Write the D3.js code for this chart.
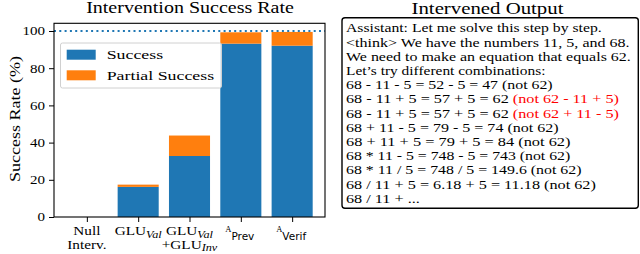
<!DOCTYPE html>
<html>
<head>
<meta charset="utf-8">
<script src="https://cdn.jsdelivr.net/npm/d3@7"></script>
<style>
  body { margin: 0; background: #fff; }
</style>
</head>
<body>
<svg id="chart" width="640" height="254"></svg>
<script>
// categories and values
var categories = ['null', 'gluVal', 'gluValInv', 'aPrev', 'aVerif'];
var successVals = [0, 16.2, 32.8, 93.2, 92.1];
var partialVals = [0, 1.2, 11.0, 6.1, 7.4];
var yTicks = [0, 20, 40, 60, 80, 100];
var seriesNames = ['Success', 'Partial Success'];
var seriesColors = ['#1f77b4', '#ff7f0e'];

var outputLines = [
  [['Assistant: Let me solve this step by step.', 'k']],
  [['<think> We have the numbers 11, 5, and 68.', 'k']],
  [['We need to make an equation that equals 62.', 'k']],
  [['Let\u2019s try different combinations:', 'k']],
  [['68 - 11 - 5 = 52 - 5 = 47 (not 62)', 'k']],
  [['68 - 11 + 5 = 57 + 5 = 62 ', 'k'], ['(not 62 - 11 + 5)', 'r']],
  [['68 - 11 + 5 = 57 + 5 = 62 ', 'k'], ['(not 62 + 11 - 5)', 'r']],
  [['68 + 11 - 5 = 79 - 5 = 74 (not 62)', 'k']],
  [['68 + 11 + 5 = 79 + 5 = 84 (not 62)', 'k']],
  [['68 * 11 - 5 = 748 - 5 = 743 (not 62)', 'k']],
  [['68 * 11 / 5 = 748 / 5 = 149.6 (not 62)', 'k']],
  [['68 / 11 + 5 = 6.18 + 5 = 11.18 (not 62)', 'k']],
  [['68 / 11 + ...', 'k']]
];

var SERIF = 'Liberation Serif';

var svg = d3.select('#chart');

// stretch a text element so the narrow serif looks like the wide one
function widen(node, k) {
  var w = node.getComputedTextLength();
  node.setAttribute('textLength', w * k);
  node.setAttribute('lengthAdjust', 'spacingAndGlyphs');
}

// same, but take the width from DejaVu Sans metrics (closer to the original per line)
function widenLike(node, size, k) {
  var probe = svg.append('text')
    .attr('font-family', 'DejaVu Sans').attr('font-size', size)
    .attr('xml:space', 'preserve')
    .text(node.textContent);
  var w = probe.node().getComputedTextLength();
  probe.remove();
  node.setAttribute('textLength', w * k);
  node.setAttribute('lengthAdjust', 'spacingAndGlyphs');
}

var axL = 54, axR = 325, axT = 23.3, axB = 217;

var x = d3.scaleLinear().domain([-0.64, 4.64]).range([axL, axR]);
var y = d3.scaleLinear().domain([0, 100]).range([axB, 31]);
var barW = x(0.8) - x(0);

var g = svg.append('g');

// bars
var stacks = categories.map(function(c, i) {
  return {i: i, s: successVals[i], p: partialVals[i]};
});
g.selectAll('rect.success').data(stacks).enter().append('rect')
  .attr('class', 'success')
  .attr('x', function(d) { return x(d.i) - barW / 2; })
  .attr('width', barW)
  .attr('y', function(d) { return y(d.s); })
  .attr('height', function(d) { return y(0) - y(d.s); })
  .attr('fill', seriesColors[0]);
g.selectAll('rect.partial').data(stacks).enter().append('rect')
  .attr('class', 'partial')
  .attr('x', function(d) { return x(d.i) - barW / 2; })
  .attr('width', barW)
  .attr('y', function(d) { return y(d.s + d.p); })
  .attr('height', function(d) { return y(d.s) - y(d.s + d.p); })
  .attr('fill', seriesColors[1]);

// dotted line at 100
g.append('line')
  .attr('x1', axL).attr('x2', axR)
  .attr('y1', y(100)).attr('y2', y(100))
  .attr('stroke', seriesColors[0])
  .attr('stroke-width', 2)
  .attr('stroke-dasharray', '2,3.3');

// frame
g.append('rect')
  .attr('x', axL).attr('y', axT)
  .attr('width', axR - axL).attr('height', axB - axT)
  .attr('fill', 'none').attr('stroke', '#000').attr('stroke-width', 1.1);

// y axis
var yAxis = d3.axisLeft(y).tickValues(yTicks).tickSize(5).tickPadding(4);
var ya = g.append('g').attr('transform', 'translate(' + axL + ',0)').call(yAxis);
ya.select('.domain').remove();
ya.selectAll('text')
  .attr('font-family', SERIF).attr('font-size', 12).attr('fill', '#000')
  .each(function() { widen(this, 1.25); });

// x ticks
var xa = g.append('g').attr('transform', 'translate(0,' + axB + ')')
  .call(d3.axisBottom(x).tickValues(d3.range(categories.length)).tickSize(5).tickFormat(''));
xa.select('.domain').remove();

// x tick labels (with subscripts), one text per line
function label(cx, lines) {
  lines.forEach(function(parts, li) {
    var t = g.append('text').attr('text-anchor', 'middle')
      .attr('x', cx).attr('y', 235 + li * 13.5)
      .attr('font-family', SERIF).attr('font-size', 12.5);
    parts.forEach(function(p) {
      var ts = t.append('tspan').text(p.t);
      if (p.dy) ts.attr('dy', p.dy);
      if (p.style) ts.attr('font-style', p.style);
      if (p.size) ts.attr('font-size', p.size);
      if (p.fam) ts.attr('font-family', p.fam);
    });
    if (!parts.some(function(p) { return p.fam; })) widen(t.node(), 1.22);
  });
}
label(x(0), [[{t: 'Null'}], [{t: 'Interv.'}]]);
label(x(1), [[{t: 'GLU'}, {t: 'Val', style: 'italic', size: 10, dy: 2.5}]]);
label(x(2), [[{t: 'GLU'}, {t: 'Val', style: 'italic', size: 10, dy: 2.5}],
             [{t: '+GLU'}, {t: 'Inv', style: 'italic', size: 10, dy: 2.5}]]);
label(x(3) - 1, [[{t: 'A', size: 8.5, dy: -2.7}, {t: 'Prev', fam: 'DejaVu Sans', size: 10.5, dy: 7.7}]]);
label(x(4) - 1, [[{t: 'A', size: 8.5, dy: -2.7}, {t: 'Verif', fam: 'DejaVu Sans', size: 10.5, dy: 7.7}]]);

// y label
var yl = svg.append('text')
  .attr('transform', 'translate(20,' + 119 + ') rotate(-90)')
  .attr('text-anchor', 'middle')
  .attr('font-family', SERIF).attr('font-size', 15)
  .text('Success Rate (%)');
widen(yl.node(), 1.2);

// title
var t1 = svg.append('text')
  .attr('x', 190).attr('y', 13.3)
  .attr('text-anchor', 'middle')
  .attr('font-family', SERIF).attr('font-size', 16)
  .text('Intervention Success Rate');
widen(t1.node(), 1.25);

// legend
var leg = svg.append('g').attr('transform', 'translate(60.5,43)');
leg.append('rect').attr('width', 161).attr('height', 45).attr('rx', 2)
  .attr('fill', '#fff').attr('fill-opacity', 0.8).attr('stroke', '#d0d0d0');
seriesNames.forEach(function(n, i) {
  leg.append('rect').attr('x', 6.2).attr('y', 6.7 + i * 20.6)
    .attr('width', 29).attr('height', 10).attr('fill', seriesColors[i]);
  var lt = leg.append('text').attr('x', 46.2).attr('y', 15.7 + i * 21)
    .attr('font-family', SERIF).attr('font-size', 13.5).text(n);
  widen(lt.node(), 1.32);
});

// right panel
var t2 = svg.append('text')
  .attr('x', 487.5).attr('y', 14)
  .attr('text-anchor', 'middle')
  .attr('font-family', SERIF).attr('font-size', 16)
  .text('Intervened Output');
widen(t2.node(), 1.3);

svg.append('rect')
  .attr('x', 342).attr('y', 17.8)
  .attr('width', 296.3).attr('height', 190.5)
  .attr('rx', 3)
  .attr('fill', '#fff').attr('stroke', '#000').attr('stroke-width', 1.4);

var tb = svg.append('g');
outputLines.forEach(function(parts, i) {
  var t = tb.append('text').attr('x', 346).attr('y', 32.3 + i * 14.2)
    .attr('font-family', SERIF).attr('font-size', 13)
    .attr('xml:space', 'preserve');
  parts.forEach(function(p) {
    t.append('tspan').text(p[0]).attr('fill', p[1] === 'r' ? '#ff0000' : '#000');
  });
  widenLike(t.node(), 11, 1.13);
});
</script>
</body>
</html>
